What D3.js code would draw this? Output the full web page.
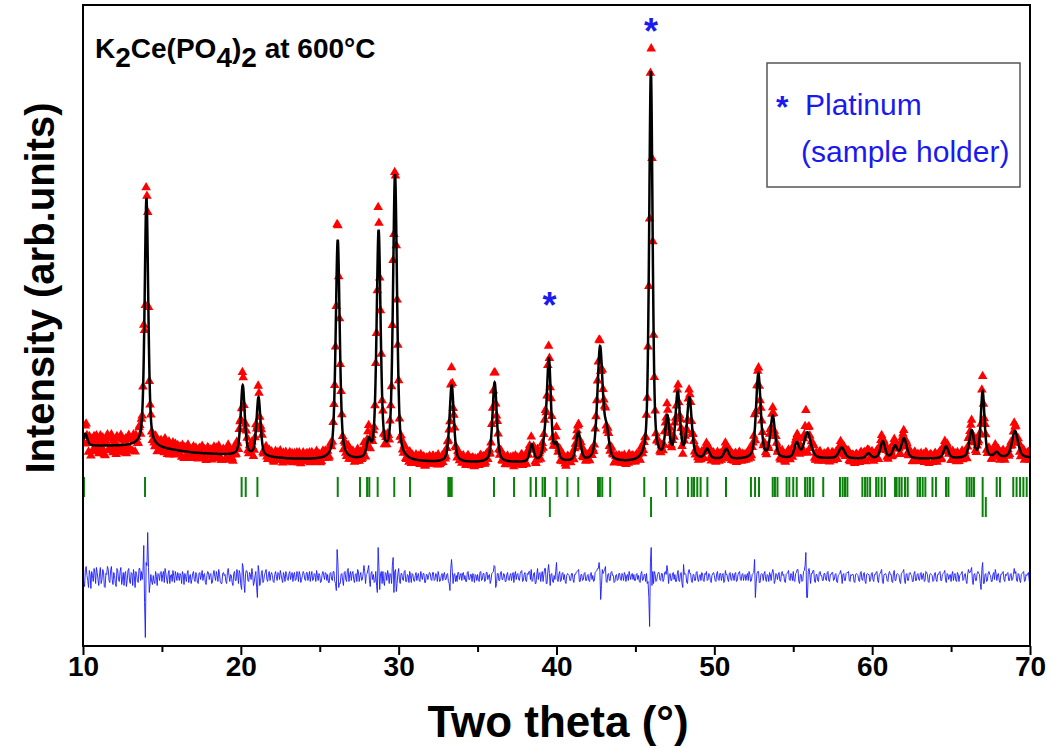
<!DOCTYPE html>
<html>
<head>
<meta charset="utf-8">
<script src="https://cdn.jsdelivr.net/npm/d3@7"></script>
<style>
  body { margin: 0; background: #fff; }
  svg { display: block; font-family: Arial, "Liberation Sans", sans-serif; }
</style>
</head>
<body>
<svg id="chart" width="1052" height="748"></svg>
<script>
// refined reflections: [2theta, height (counts), fwhm (deg)]
const peaks = [
  [10.15, 120, 0.3], [14.02, 2490, 0.27], [20.12, 700, 0.3], [21.12, 590, 0.3],
  [26.14, 2200, 0.3], [28.1, 160, 0.3], [28.73, 2280, 0.3], [29.77, 2850, 0.3],
  [33.36, 770, 0.32], [36.08, 800, 0.32], [38.43, 170, 0.3], [39.27, 160, 0.3],
  [39.52, 1000, 0.3], [40.0, 150, 0.3], [41.38, 290, 0.35], [42.76, 1140, 0.4],
  [43.18, 250, 0.35], [45.98, 3900, 0.26], [47.02, 410, 0.32], [47.68, 660, 0.34],
  [48.42, 610, 0.36], [49.55, 100, 0.35], [50.76, 100, 0.35], [52.79, 850, 0.35],
  [53.7, 420, 0.35], [55.22, 150, 0.35], [55.9, 260, 0.5], [58.07, 110, 0.45],
  [59.76, 50, 0.35], [60.67, 170, 0.35], [61.45, 120, 0.35], [62.02, 200, 0.4],
  [64.68, 120, 0.35], [66.3, 270, 0.35], [67.0, 660, 0.28], [67.89, 50, 0.35],
  [69.05, 270, 0.45]
];

// background anchors
const bgTheta  = [10, 13.5, 15, 17, 20, 23, 25, 27, 30, 33, 45, 50, 57, 63, 70];
const bgCounts = [240, 240, 210, 170, 140, 110, 100, 90, 80, 70, 70, 100, 110, 110, 120];

// obs - calc, one value per 0.05 deg step from 10.00 to 70.00 (one row per degree)
const diffStart = 10, diffStep = 0.05;
const diffCounts = [
  40, -60, -90, 80, 110, 20, -30, -100, 70, 30, -110, 60, 20, -40, 90, 50, -60, 100, 50, -20,
  -80, 40, 100, -60, -20, 80, 60, -90, -100, 40, 30, 110, 80, -30, -50, 70, 110, -20, -70, 50,
  20, -60, -90, 90, 70, -20, -40, 60, 100, -70, -20, 50, -80, 40, 60, -90, -30, 70, 90, -40,
  -60, 50, 40, -80, 80, 20, -100, 60, 30, -40, -50, 90, 90, -30, 60, -20, 60, 320, -250, -600,
  150, 120, 450, 100, -150, -60, 30, -40, -70, 20, -40, -60, 60, 10, -80, 40, 30, -30, 50, 60,
  -40, 30, 60, -50, 90, 40, -20, -60, 40, 70, -60, 20, 30, -40, 70, 10, -50, 60, 20, -30,
  50, 20, -30, 40, 20, -60, 60, 30, -70, 40, 10, -40, 40, 70, -50, 10, 30, -60, -20, 40,
  60, -20, -40, 50, 30, -50, -60, 40, 50, -20, 20, 70, -30, 30, 40, -50, -70, 20, 60, 50,
  -20, 30, 40, -60, -50, 30, 70, 10, -30, 60, 20, -40, 80, 30, -40, -60, -60, 40, 50, 20,
  30, -40, -60, 50, 90, 20, -40, 30, 20, -50, -80, 40, 60, -30, -30, 80, 40, -60, 70, 40,
  -80, -120, 140, 100, -60, -150, 40, 70, 60, -30, -40, 50, 30, -20, 90, 30, -80, -50, 20, 60,
  -100, -200, 120, 60, -80, -40, 40, 70, -50, -30, 30, 50, 80, -20, -40, 40, 60, -30, 30, 50,
  20, -40, -50, 30, 60, 10, -30, 50, 40, -20, 70, 30, -20, -50, 50, 20, -40, 60, 30, -20,
  -30, 40, 60, -20, 20, 50, -40, 30, 50, -30, -20, 60, 40, -40, 60, 30, -50, -20, 20, 60,
  40, -20, -30, 50, 50, -30, 10, 60, -40, 20, 60, -30, -20, 40, 30, -40, 70, 20, -30, 40,
  20, -50, -40, 30, 60, 20, -20, 50, 40, -30, 30, -50, -50, 40, 50, -20, -30, 60, 60, -40,
  -60, -130, 280, 150, -100, -60, -60, 30, 40, -30, -80, 50, 60, -20, -40, 70, 90, -40, 30, 60,
  -30, 40, 60, -20, -50, 30, 40, -40, 80, 60, -40, 20, 50, -30, -20, 40, 120, 60, -60, 30,
  40, 80, 120, -30, -90, 40, 60, -20, 30, -50, -40, 60, -80, -150, 300, 100, -120, 40, 60, -60,
  60, -40, -80, 50, 40, -30, 70, 30, -60, 40, 30, -60, 120, 200, -150, 60, 80, -140, -60, 40,
  90, -30, -60, 40, 40, -20, -30, 60, 70, -40, -40, 30, 20, -50, 60, 20, -50, 40, 30, -30,
  -40, 20, 50, -30, 20, 40, -30, -40, 60, 20, -20, 40, 40, -50, -50, 30, 30, -20, 20, 50,
  40, -20, -30, 50, 50, -30, -20, 40, 30, -40, 60, 20, -40, -30, 20, 40, -30, 30, 50, -20,
  -20, 30, 40, -40, -60, -130, 90, 180, 60, -60, 30, 40, -40, 20, -40, 50, 50, -20, 20, 40,
  -30, 40, 50, -20, 20, -40, -40, 50, 60, -20, -20, 30, 30, -40, 40, 20, -50, 30, 20, -30,
  30, -20, -40, 50, 60, -30, -20, 40, 40, -40, -30, 50, 50, -20, 20, 30, -60, -30, 40, 50,
  60, 120, 110, -100, -60, 40, 40, -30, -30, 50, 60, -20, -20, 40, 30, -40, -40, 30, 50, -20,
  -30, 20, 40, -30, 20, 50, -50, 30, 60, -20, 30, 40, -20, -30, 40, 60, 70, -40, -30, 30,
  50, -30, -40, 40, 30, 60, 60, -20, 80, -40, -30, 40, 50, -60, -60, 30, 90, -20, 40, 50,
  -40, 30, 60, -40, 30, 90, 90, -60, -60, 60, 130, 40, -80, 30, 40, -40, -50, 20, -20, 60,
  150, -20, -40, 30, 60, -40, -30, 40, 50, -20, 30, -40, -60, 20, 40, 30, 20, -30, -30, 40,
  40, -20, -50, 30, 30, 50, 60, 70, 80, -40, -40, 30, 30, -30, -20, 40, 50, -30, -30, 20,
  30, -30, -40, 40, 50, -20, 20, -40, -30, 50, 60, 70, 90, 90, 150, 60, -220, -80, 80, 40,
  60, 80, 110, -40, -50, 30, 40, -30, -30, 50, 60, 20, 20, -50, -40, 20, 30, -30, -20, 40,
  40, -20, -30, 40, 20, -30, 50, 30, -40, 20, 30, -30, 60, 20, -20, 30, 40, -20, 30, -30,
  -30, 30, 40, -20, 20, -40, -50, 40, 60, -30, -20, 30, 30, -40, 40, -60, -40, -200, -490, 150,
  300, -80, 60, -60, 60, 30, -40, -30, 30, 50, 50, -20, -30, 40, 40, -40, -20, 50, 60, 30,
  120, 60, -60, 30, 40, -30, -30, 40, 50, -20, 30, -40, -40, 30, 70, -30, -40, 40, 50, -60,
  -100, 130, 30, 40, 30, -50, -60, 50, 80, 40, 40, -40, -50, 30, 30, -30, -30, 50, 60, -20,
  -40, 20, 30, -30, 50, 40, -30, -40, 40, 30, 60, -30, -20, 40, 30, -30, -50, 20, 40, 50,
  20, -30, -40, 40, 60, -20, -30, 40, 40, -30, 20, 40, -50, -40, 70, 30, 30, -20, -40, 40,
  50, -20, -30, 40, 20, -30, 40, 50, -40, -30, 30, 50, 60, -20, -30, 30, 40, -30, 20, 30,
  -30, 20, 40, -30, 60, 30, -40, -30, 30, 40, 50, 180, -200, -60, 40, 60, 60, -50, -50, 30,
  40, 30, -30, 40, 60, -20, -40, 30, 20, -40, 50, 30, -30, 40, 80, 50, -60, -30, 40, 30,
  -20, 30, 50, -30, -40, 40, 60, 20, 30, -40, -50, 30, 40, 50, 70, -20, -30, 40, 20, -30,
  60, -30, -40, 40, 50, 80, 80, -40, -60, 30, 30, -40, -30, 60, 70, 120, 250, -200, -200, 60,
  90, 30, -60, 40, 40, 70, 70, -40, -50, 30, 30, -30, -40, 50, 60, 20, 20, -30, -30, 40,
  40, -20, -30, 50, 60, -30, -40, 30, 30, 50, 50, -30, -20, 30, 40, -40, -50, 20, 30, 40,
  70, 30, -60, 30, 40, -30, -30, 40, 50, 50, 60, -30, -40, 30, 20, 30, 30, -40, -50, 30,
  40, 30, 20, -30, -40, 50, 60, -20, -30, 40, 50, -40, -60, 30, 40, 30, 30, -40, -20, 40,
  50, -20, -40, 30, 30, 50, 60, -30, -50, 30, 40, 60, 80, -40, -60, 30, 30, 40, 20, -30,
  -40, 40, 60, 30, 30, -40, -50, 50, 70, -30, -30, 30, 40, 30, 20, -40, -60, 40, 50, 60,
  80, -30, -60, 30, 40, -30, -30, 40, 50, 30, 20, -40, -40, 40, 60, -30, -30, 30, 40, -20,
  -30, 40, 50, -20, 20, 40, -40, -30, 60, 50, 30, -40, -50, 30, 40, 30, 20, -40, -30, 40,
  50, -20, -40, 30, 30, 50, 60, -30, -30, 30, 40, 50, 70, -30, -50, 40, 30, -20, 20, 30,
  -40, 30, 60, -30, 20, 40, -30, -40, 50, 30, -40, 20, 30, 40, 60, -30, -20, 30, 40, -30,
  -60, 30, 80, 50, 50, 70, 100, -30, -70, 30, 40, -30, -30, 40, 60, 40, 30, -60, -120, 80,
  150, -60, -60, 30, 40, -40, -30, 40, 60, 30, 20, -40, -40, 30, 50, -20, 80, 40, -30, 30,
  40, -30, -50, 30, 30, 50, 60, -20, -40, 30, 20, 40, 50, -30, -30, 30, 40, -30, -20, 30,
  90, 40, 60, -30, -40, 40, 30, -30, -50, 30, 40, 50, 60, -40, -30, 30, 20, 40, 50, -30,
  -20
];
const diffOffset = -1075;

// Bragg positions
const phaseTicks = [
  10.06, 13.93, 20.05, 20.31, 21.05, 26.14, 27.55, 28.0, 28.14, 28.67, 29.72, 30.72,
  33.15, 33.25, 33.36, 36.04, 37.31, 38.36, 38.7, 39.12, 39.27, 40.0, 40.69, 41.38,
  42.63, 42.75, 42.9, 43.4, 45.56, 46.94, 47.66, 48.33, 48.57, 48.71, 48.92, 49.13,
  49.56, 50.74, 52.32, 52.58, 52.83, 53.7, 53.84, 54.0, 54.58, 54.75, 55.0, 55.22,
  55.75, 55.9, 56.06, 56.27, 56.9, 57.96, 58.13, 58.28, 58.43, 59.38, 59.55, 59.7,
  59.87, 60.25, 60.4, 60.6, 60.81, 61.45, 61.55, 61.72, 61.87, 62.08, 62.25, 62.88,
  63.03, 63.2, 63.37, 63.82, 64.04, 64.68, 64.83, 65.99, 66.16, 66.3, 66.45, 67.0,
  67.89, 68.1, 68.94, 69.15, 69.37, 69.58, 69.79, 70.0
];
const platinumTicks = [39.58, 45.99, 67.0, 67.2];
const platinumStars = [39.55, 45.98];
const starCounts = [1520, 4260];

const xMajor = [10, 20, 30, 40, 50, 60, 70];
const xMinor = [15, 25, 35, 45, 55, 65];

const svg = d3.select('#chart');
const plot = { left: 83, right: 1030, top: 5, bottom: 646 };

const x = d3.scaleLinear().domain([10, 70]).range([plot.left, plot.right]);
const y = d3.scaleLinear().domain([0, 4500]).range([470, 20]);
const bg = d3.scaleLinear().domain(bgTheta).range(bgCounts);

const eta = 0.5, ln2x4 = 4 * Math.LN2;
function calc(t) {
  let s = bg(t);
  peaks.forEach(([p, h, f]) => {
    const q = (t - p) * (t - p) / (f * f);
    s += h * (eta / (1 + 4 * q) + (1 - eta) * Math.exp(-ln2x4 * q));
  });
  return s;
}

const fine = d3.range(0, 6001).map(i => 10 + i * 0.01);
const steps = diffCounts.map((d, i) => ({ t: diffStart + i * diffStep, d }));

svg.append('defs').append('clipPath').attr('id', 'clip')
  .append('rect').attr('x', plot.left).attr('y', plot.top)
  .attr('width', plot.right - plot.left).attr('height', plot.bottom - plot.top);

const g = svg.append('g').attr('clip-path', 'url(#clip)');

// observed
g.append('g').selectAll('path').data(steps).join('path')
  .attr('d', d3.symbol(d3.symbolTriangle, 40))
  .attr('transform', s => `translate(${x(s.t)},${y(calc(s.t) + s.d)})`)
  .attr('fill', '#ff0000');

// calculated
g.append('path').datum(fine)
  .attr('d', d3.line().x(t => x(t)).y(t => y(calc(t))))
  .attr('fill', 'none').attr('stroke', '#000').attr('stroke-width', 2.5);

// Bragg ticks
g.append('g').selectAll('line').data(phaseTicks).join('line')
  .attr('x1', t => x(t)).attr('x2', t => x(t)).attr('y1', 477).attr('y2', 497)
  .attr('stroke', '#0a820a').attr('stroke-width', 2);
g.append('g').selectAll('line').data(platinumTicks).join('line')
  .attr('x1', t => x(t)).attr('x2', t => x(t)).attr('y1', 497).attr('y2', 517)
  .attr('stroke', '#0a820a').attr('stroke-width', 2);

// difference
g.append('path').datum(steps)
  .attr('d', d3.line().x(s => x(s.t)).y(s => y(s.d + diffOffset)))
  .attr('fill', 'none').attr('stroke', '#1a1aff').attr('stroke-width', 0.9);

// frame and x axis
svg.append('rect').attr('x', plot.left).attr('y', plot.top)
  .attr('width', plot.right - plot.left).attr('height', plot.bottom - plot.top)
  .attr('fill', 'none').attr('stroke', '#000').attr('stroke-width', 2);

const xAxis = d3.axisBottom(x).tickValues(xMajor).tickSize(9).tickPadding(1).tickFormat(d3.format('d'));
const ax = svg.append('g').attr('transform', `translate(0,${plot.bottom})`).call(xAxis);
ax.select('.domain').remove();
ax.selectAll('line').attr('stroke-width', 2);
ax.selectAll('text').attr('font-size', 28).attr('font-weight', 'bold')
  .attr('font-family', 'Arial, "Liberation Sans", sans-serif').attr('fill', '#000');
svg.append('g').attr('transform', `translate(0,${plot.bottom})`)
  .call(d3.axisBottom(x).tickValues(xMinor).tickSize(6).tickFormat(''))
  .call(a => a.select('.domain').remove())
  .selectAll('line').attr('stroke-width', 2);

// axis titles
svg.append('text').attr('x', 558).attr('y', 737).attr('text-anchor', 'middle')
  .attr('font-size', 44).attr('font-weight', 'bold').text('Two theta (°)');
svg.append('text').attr('transform', 'translate(54,288) rotate(-90)').attr('text-anchor', 'middle')
  .attr('font-size', 40).attr('font-weight', 'bold').text('Intensity (arb.units)');

// sample label
const title = svg.append('text').attr('x', 95).attr('y', 58).attr('font-size', 28).attr('font-weight', 'bold');
title.append('tspan').text('K');
title.append('tspan').attr('dy', 9).text('2');
title.append('tspan').attr('dy', -9).text('Ce(PO');
title.append('tspan').attr('dy', 9).text('4');
title.append('tspan').attr('dy', -9).text(')');
title.append('tspan').attr('dy', 9).text('2');
title.append('tspan').attr('dy', -9).text(' at 600°C');

// platinum markers
svg.append('g').selectAll('text').data(platinumStars).join('text')
  .attr('x', t => x(t)).attr('y', (t, i) => y(starCounts[i]))
  .attr('text-anchor', 'middle').attr('font-size', 36).attr('font-weight', 'bold')
  .attr('fill', '#1a1aee').text('*');

// legend
svg.append('rect').attr('x', 767).attr('y', 63).attr('width', 253).attr('height', 124)
  .attr('fill', '#fff').attr('stroke', '#555').attr('stroke-width', 1.5);
svg.append('text').attr('x', 776).attr('y', 118).attr('font-size', 32).attr('font-weight', 'bold')
  .attr('fill', '#1a1aee').text('*');
svg.append('text').attr('x', 805).attr('y', 115).attr('font-size', 30).attr('fill', '#1a1aee').text('Platinum');
svg.append('text').attr('x', 801).attr('y', 162).attr('font-size', 30).attr('fill', '#1a1aee').text('(sample holder)');
</script>
</body>
</html>
